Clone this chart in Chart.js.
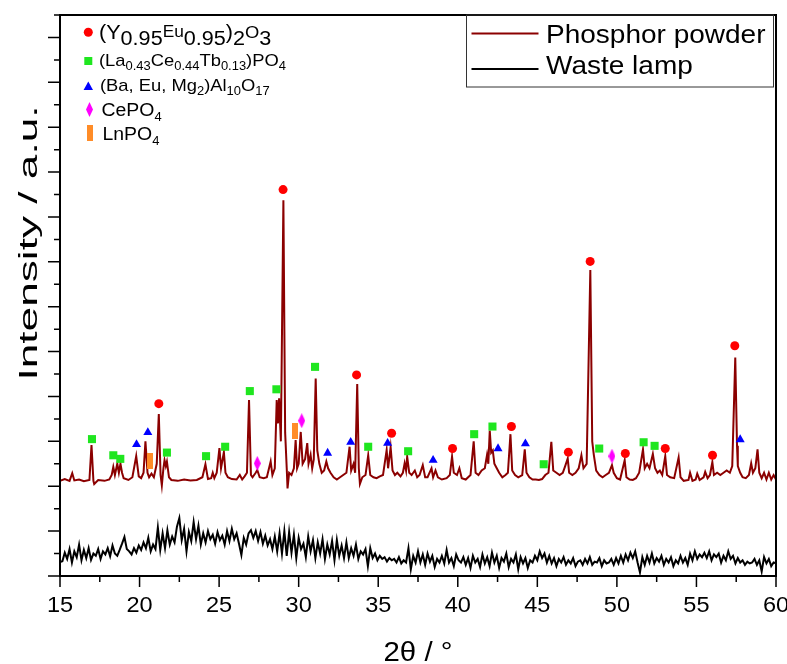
<!DOCTYPE html>
<html>
<head>
<meta charset="utf-8">
<script src="https://cdn.jsdelivr.net/npm/chart.js@4.4.0/dist/chart.umd.min.js"></script>
<style>
  html, body { margin: 0; padding: 0; background: #fff; }
  #wrap { position: relative; width: 787px; height: 664px; }
</style>
</head>
<body>
<div id="wrap"><canvas id="chart-area"></canvas></div>
<script>
// waste lamp scan on a 0.15 deg grid
const wasteStart = 15.0;
const wasteStep = 0.15;
const wasteInt = [
  0.31,0.33,0.52,0.38,0.60,0.30,0.55,0.42,0.70,0.35,
  0.58,0.40,0.62,0.36,0.50,0.45,0.60,0.38,0.55,0.48,
  0.62,0.44,0.68,0.50,0.45,0.58,0.72,0.87,0.60,0.55,
  0.48,0.62,0.52,0.68,0.58,0.75,0.62,0.85,0.55,0.70,
  0.60,1.08,0.58,0.95,0.62,1.02,0.70,0.88,0.75,1.10,
  1.29,0.80,1.05,0.55,0.98,0.78,1.20,0.82,1.12,0.70,
  0.95,0.75,1.00,0.82,0.92,0.72,0.98,0.80,0.90,0.70,
  1.00,0.78,1.05,0.82,0.95,0.72,0.47,0.85,0.70,0.95,
  1.02,0.85,1.00,0.78,0.98,0.72,0.90,0.68,0.82,0.60,
  0.88,0.55,0.95,0.50,1.00,0.45,0.98,0.52,0.92,0.40,
  0.85,0.60,0.72,0.42,0.88,0.55,0.80,0.40,0.75,0.50,
  0.82,0.38,0.70,0.48,0.78,0.35,0.80,0.45,0.68,0.40,
  0.75,0.40,0.62,0.45,0.70,0.38,0.55,0.48,0.60,0.22,
  0.62,0.40,0.50,0.35,0.45,0.38,0.42,0.32,0.40,0.35,
  0.38,0.30,0.42,0.28,0.35,0.30,0.62,0.15,0.45,0.30,
  0.55,0.30,0.48,0.25,0.50,0.32,0.45,0.20,0.38,0.30,
  0.45,0.28,0.58,0.30,0.40,0.22,0.48,0.35,0.30,0.42,
  0.25,0.40,0.18,0.45,0.30,0.38,0.20,0.48,0.28,0.42,
  0.22,0.52,0.30,0.45,0.18,0.40,0.32,0.50,0.20,0.38,
  0.30,0.48,0.15,0.42,0.28,0.40,0.18,0.35,0.30,0.45,
  0.35,0.55,0.40,0.50,0.30,0.45,0.28,0.40,0.22,0.38,
  0.30,0.42,0.25,0.35,0.28,0.40,0.22,0.32,0.35,0.25,
  0.38,0.28,0.42,0.25,0.32,0.30,0.40,0.22,0.35,0.28,
  0.30,0.38,0.25,0.40,0.28,0.45,0.30,0.48,0.35,0.52,
  0.40,0.55,0.30,0.08,0.42,0.25,0.45,0.30,0.50,0.28,
  0.40,0.32,0.45,0.25,0.38,0.30,0.42,0.22,0.35,0.28,
  0.45,0.30,0.40,0.25,0.50,0.35,0.55,0.38,0.48,0.42,
  0.52,0.40,0.55,0.35,0.48,0.42,0.50,0.30,0.45,0.35,
  0.55,0.38,0.45,0.28,0.40,0.30,0.35,0.25,0.32,0.28,
  0.30,0.38,0.25,0.35,0.10,0.42,0.28,0.38,0.22,0.30,
  0.28
];

// phosphor powder pattern: [2theta, intensity] at peaks and between them
const phosphorPts = [
  [15.0,2.12],[15.3,2.16],[15.6,2.12],[15.77,2.29],[15.9,2.13],[16.2,2.15],[16.5,2.11],[16.85,2.14],
  [16.98,2.92],[17.1,2.12],[17.15,2.05],[17.4,2.14],[17.8,2.12],[18.1,2.15],[18.25,2.25],[18.35,2.43],
  [18.45,2.25],[18.6,2.5],[18.7,2.3],[18.8,2.5],[18.9,2.3],[19.0,2.18],[19.3,2.14],[19.55,2.2],
  [19.79,2.67],[19.95,2.22],[20.1,2.18],[20.25,2.3],[20.37,3.0],[20.5,2.3],[20.6,2.2],[20.75,2.28],
  [20.9,2.2],[21.08,2.5],[21.21,3.61],[21.32,2.25],[21.4,2.02],[21.5,2.4],[21.57,2.58],[21.65,2.45],
  [21.72,2.55],[21.85,2.2],[22.0,2.14],[22.4,2.12],[22.8,2.15],[23.2,2.13],[23.6,2.14],[23.95,2.2],
  [24.14,2.49],[24.3,2.16],[24.5,2.18],[24.6,2.3],[24.7,2.18],[24.85,2.3],[25.02,2.85],[25.12,2.4],
  [25.3,2.76],[25.4,2.3],[25.55,2.2],[25.8,2.16],[26.1,2.15],[26.3,2.25],[26.45,2.15],[26.6,2.22],
  [26.75,2.3],[26.88,3.92],[27.0,2.25],[27.1,2.2],[27.3,2.3],[27.4,2.36],[27.55,2.2],[27.8,2.18],
  [28.0,2.2],[28.24,2.55],[28.35,2.25],[28.5,2.4],[28.62,3.92],[28.7,3.4],[28.77,3.96],[28.88,3.0],
  [29.04,8.37],[29.15,3.2],[29.25,2.4],[29.3,1.95],[29.4,2.3],[29.55,2.25],[29.7,2.4],[29.81,3.03],
  [29.9,2.4],[30.0,2.5],[30.13,3.21],[30.25,2.5],[30.4,2.6],[30.54,2.96],[30.62,2.5],[30.75,2.7],
  [30.85,2.4],[30.95,2.6],[31.07,4.4],[31.17,2.8],[31.3,2.5],[31.45,2.3],[31.6,2.35],[31.74,2.55],
  [31.85,2.4],[32.0,2.3],[32.2,2.2],[32.4,2.15],[32.6,2.2],[32.8,2.25],[33.0,2.3],[33.2,2.88],
  [33.3,2.35],[33.45,2.5],[33.55,2.3],[33.68,4.28],[33.78,2.4],[33.85,2.05],[34.0,2.2],[34.2,2.25],
  [34.37,2.69],[34.5,2.25],[34.7,2.2],[34.9,2.18],[35.1,2.22],[35.3,2.25],[35.53,2.81],[35.62,2.4],
  [35.78,2.87],[35.9,2.35],[36.05,2.25],[36.2,2.3],[36.4,2.22],[36.55,2.3],[36.66,2.51],[36.75,2.35],
  [36.82,2.66],[36.95,2.3],[37.1,2.25],[37.3,2.35],[37.45,2.2],[37.6,2.25],[37.8,2.47],[37.95,2.2],
  [38.1,2.2],[38.35,2.4],[38.45,2.2],[38.6,2.35],[38.75,2.2],[39.0,2.15],[39.3,2.18],[39.5,2.25],
  [39.64,2.66],[39.75,2.3],[39.95,2.25],[40.1,2.4],[40.25,2.18],[40.5,2.15],[40.8,2.25],[41.0,3.0],
  [41.12,2.3],[41.3,2.25],[41.5,2.35],[41.7,2.4],[41.84,2.7],[41.92,2.5],[42.01,3.24],[42.1,2.75],
  [42.2,2.8],[42.3,2.5],[42.45,2.4],[42.6,2.3],[42.8,2.2],[43.0,2.25],[43.15,2.3],[43.31,3.16],
  [43.42,2.35],[43.6,2.25],[43.8,2.2],[44.05,2.25],[44.21,2.82],[44.32,2.3],[44.5,2.2],[44.7,2.15],
  [44.9,2.15],[45.1,2.14],[45.3,2.16],[45.5,2.25],[45.7,2.3],[45.88,2.99],[46.0,2.35],[46.2,2.3],
  [46.4,2.25],[46.6,2.3],[46.75,2.45],[46.91,2.62],[47.0,2.3],[47.2,2.25],[47.4,2.3],[47.6,2.4],
  [47.77,2.69],[47.9,2.4],[48.1,2.5],[48.33,6.82],[48.45,3.0],[48.55,2.7],[48.7,2.35],[48.9,2.25],
  [49.1,2.2],[49.3,2.25],[49.5,2.3],[49.69,2.47],[49.8,2.3],[50.0,2.18],[50.2,2.15],[50.49,2.58],
  [50.6,2.2],[50.8,2.15],[51.0,2.14],[51.2,2.18],[51.4,2.3],[51.64,2.82],[51.75,2.4],[51.9,2.5],
  [52.05,2.4],[52.26,2.72],[52.4,2.4],[52.55,2.3],[52.7,2.35],[52.85,2.25],[53.04,2.67],[53.15,2.25],
  [53.35,2.2],[53.6,2.18],[53.88,2.64],[54.0,2.2],[54.2,2.12],[54.5,2.14],[54.6,2.3],[54.75,2.12],
  [54.95,2.15],[55.05,2.28],[55.2,2.14],[55.45,2.2],[55.55,2.32],[55.7,2.18],[55.85,2.25],[56.0,2.54],
  [56.1,2.25],[56.3,2.3],[56.5,2.25],[56.7,2.3],[56.9,2.35],[57.1,2.3],[57.25,2.45],[57.44,4.87],
  [57.55,2.9],[57.6,2.45],[57.75,2.3],[57.9,2.2],[58.1,2.18],[58.3,2.25],[58.44,2.51],[58.55,2.3],
  [58.7,2.4],[58.84,2.82],[58.95,2.3],[59.1,2.18],[59.25,2.3],[59.4,2.15],[59.55,2.3],[59.7,2.15],
  [59.85,2.25],[60.0,2.15]
];

// phase reflections marked above the peaks
const y2o3Marks = [[21.21,3.84],[29.02,8.61],[33.64,4.48],[35.84,3.18],[39.67,2.84],[43.37,3.33],
  [46.95,2.76],[48.32,7.01],[50.53,2.73],[53.04,2.84],[56.01,2.69],[57.41,5.13]];
const lctMarks = [[17.01,3.05],[18.35,2.69],[18.79,2.61],[21.72,2.75],[24.18,2.67],[25.38,2.88],
  [26.93,4.12],[28.60,4.16],[31.03,4.66],[34.37,2.88],[36.88,2.78],[41.03,3.16],[42.18,3.33],
  [45.40,2.49],[48.89,2.84],[51.68,2.98],[52.37,2.90]];
const bamMarks = [[19.81,2.93],[20.52,3.20],[31.82,2.74],[33.27,2.98],[35.59,2.96],[38.45,2.58],
  [42.53,2.84],[44.25,2.95],[57.75,3.04]];
const cepoMarks = [[27.40,2.51],[30.19,3.46],[49.69,2.67]];
const lnpoMarks = [[20.65,2.56],[29.77,3.23]];

const xTickLabels = [15, 20, 25, 30, 35, 40, 45, 50, 55, 60];
const xTitle = '2θ / °';
const yTitle = 'Intensity / a.u.';

// legend text pieces: [text, font px, baseline shift]
const phaseLabels = [
  [["(Y",20,0],["0.95",20,6],["Eu",16,-2],["0.95",20,6],[")",20,0],["2",20,6],["O",17,-1],["3",20,6]],
  [["(La",17,0],["0.43",12,4.5],["Ce",17,0],["0.44",12,4.5],["Tb",17,0],["0.13",12,4.5],[")PO",17,0],["4",12,4.5]],
  [["(Ba, Eu, Mg",17,0],["2",12,4.5],[")Al",17,0],["10",12,4.5],["O",17,0],["17",12,4.5]],
  [["CePO",18,0],["4",12,5]],
  [["LnPO",18,0],["4",12,5]]
];
const seriesNames = ['Phosphor powder', 'Waste lamp'];

const FONT = '"Liberation Sans", Arial, sans-serif';
const RED = '#ff0000', GREEN = '#1fe61f', BLUE = '#0000ff', MAGENTA = '#ff00ff', ORANGE = '#ff8c28';
const DARKRED = '#8b0000';

function shapeCanvas(w, h, color, kind) {
  const c = document.createElement('canvas');
  c.width = w; c.height = h;
  const g = c.getContext('2d');
  g.fillStyle = color;
  if (kind === 'diamond') {
    g.beginPath();
    g.moveTo(w / 2, 0); g.lineTo(w, h / 2); g.lineTo(w / 2, h); g.lineTo(0, h / 2);
    g.closePath(); g.fill();
  } else {
    g.fillRect(0, 0, w, h);
  }
  return c;
}
const diamondImg = shapeCanvas(7, 15, MAGENTA, 'diamond');
const barImg = shapeCanvas(6, 16, ORANGE, 'bar');

const toXY = arr => arr.map(p => ({x: p[0], y: p[1]}));

function marks(arr, color, style, radius) {
  return {
    type: 'scatter',
    data: toXY(arr),
    showLine: false,
    pointStyle: style,
    pointRadius: radius,
    pointHoverRadius: radius,
    pointBackgroundColor: color,
    pointBorderColor: color,
    pointBorderWidth: 0,
    order: 0
  };
}

function richText(ctx, x, y, parts, sx) {
  let cx = x;
  parts.forEach(([t, size, dy]) => {
    ctx.font = size + 'px ' + FONT;
    ctx.save();
    ctx.translate(cx, y + dy);
    ctx.scale(sx, 1);
    ctx.fillText(t, 0, 0);
    ctx.restore();
    cx += ctx.measureText(t).width * sx;
  });
}

const framePlugin = {
  id: 'framePlugin',
  afterDatasetsDraw(chart) {
    const ctx = chart.ctx;
    const xs = chart.scales.x, ys = chart.scales.y;
    const {left, right, top, bottom} = chart.chartArea;
    ctx.save();
    ctx.strokeStyle = '#000';
    ctx.lineWidth = 2;
    ctx.strokeRect(left, top, right - left, bottom - top);

    // ticks, long on the whole values, short half way
    ctx.lineWidth = 1.5;
    ctx.beginPath();
    for (let v = 15; v <= 60.001; v += 2.5) {
      const px = xs.getPixelForValue(v);
      const len = (Math.round(v * 10) % 50 === 0) ? 11 : 6;
      ctx.moveTo(px, bottom); ctx.lineTo(px, bottom + len);
    }
    for (let v = 0; v <= 12.501; v += 0.5) {
      const py = ys.getPixelForValue(v);
      const len = (Math.round(v * 10) % 10 === 0) ? 12 : 6;
      ctx.moveTo(left, py); ctx.lineTo(left - len, py);
    }
    ctx.stroke();

    // tick labels and axis titles
    ctx.fillStyle = '#000';
    ctx.textAlign = 'center';
    ctx.textBaseline = 'alphabetic';
    ctx.font = '22px ' + FONT;
    xTickLabels.forEach(v => {
      ctx.save();
      ctx.translate(xs.getPixelForValue(v), 612);
      ctx.scale(1.07, 1);
      ctx.fillText(String(v), 0, 0);
      ctx.restore();
    });
    ctx.font = '28px ' + FONT;
    ctx.save();
    ctx.translate((left + right) / 2, 661);
    ctx.scale(1.05, 1);
    ctx.fillText(xTitle, 0, 0);
    ctx.restore();
    ctx.font = '26px ' + FONT;
    ctx.save();
    ctx.translate(37, 243);
    ctx.rotate(-Math.PI / 2);
    ctx.scale(1.7, 1);
    ctx.fillText(yTitle, 0, 0);
    ctx.restore();

    // phase key, top left
    ctx.textAlign = 'left';
    const baselines = [39, 65.5, 90.5, 116, 139.5];
    const textX = [99, 99, 100, 101.5, 102.5];
    phaseLabels.forEach((parts, i) => richText(ctx, textX[i], baselines[i], parts, 1.08));

    ctx.fillStyle = RED;
    ctx.beginPath(); ctx.arc(88.3, 32.3, 4.5, 0, Math.PI * 2); ctx.fill();
    ctx.fillStyle = GREEN;
    ctx.fillRect(84.3, 57, 8, 8);
    ctx.fillStyle = BLUE;
    ctx.beginPath(); ctx.moveTo(88.3, 81.5); ctx.lineTo(93, 90); ctx.lineTo(83.6, 90); ctx.closePath(); ctx.fill();
    ctx.drawImage(diamondImg, 86, 102);
    ctx.drawImage(barImg, 87, 125);

    // line key, top right
    ctx.strokeStyle = '#333';
    ctx.lineWidth = 1;
    ctx.strokeRect(466.5, 15, 307, 72);
    ctx.lineWidth = 2;
    ctx.strokeStyle = DARKRED;
    ctx.beginPath(); ctx.moveTo(471.5, 33.5); ctx.lineTo(538.5, 33.5); ctx.stroke();
    ctx.strokeStyle = '#000';
    ctx.beginPath(); ctx.moveTo(471.5, 69); ctx.lineTo(538.5, 69); ctx.stroke();
    ctx.fillStyle = '#000';
    richText(ctx, 546, 43, [[seriesNames[0], 25, 0]], 1.12);
    richText(ctx, 546, 74, [[seriesNames[1], 25, 0]], 1.12);
    ctx.restore();
  }
};

const ctx = document.getElementById('chart-area').getContext('2d');
new Chart(ctx, {
  type: 'scatter',
  data: {
    datasets: [
      marks(y2o3Marks, RED, 'circle', 4.5),
      marks(lctMarks, GREEN, 'rect', 5.7),
      marks(bamMarks, BLUE, 'triangle', 5.2),
      marks(cepoMarks, MAGENTA, diamondImg, 7),
      marks(lnpoMarks, ORANGE, barImg, 8),
      {
        label: seriesNames[0],
        type: 'line',
        data: toXY(phosphorPts),
        borderColor: DARKRED,
        borderWidth: 2,
        pointRadius: 0,
        tension: 0,
        order: 1
      },
      {
        label: seriesNames[1],
        type: 'line',
        data: wasteInt.map((v, i) => ({x: +(wasteStart + i * wasteStep).toFixed(2), y: v})),
        borderColor: '#000',
        borderWidth: 2,
        pointRadius: 0,
        tension: 0,
        order: 2
      }
    ]
  },
  options: {
    responsive: true,
    maintainAspectRatio: false,
    animation: false,
    layout: { padding: { left: 60, top: 15, right: 11, bottom: 88 } },
    plugins: { legend: { display: false }, tooltip: { enabled: false } },
    scales: {
      x: { type: 'linear', display: false, min: 15, max: 60 },
      y: { display: false, min: 0, max: 12.5 }
    }
  },
  plugins: [framePlugin]
});
</script>
</body>
</html>
